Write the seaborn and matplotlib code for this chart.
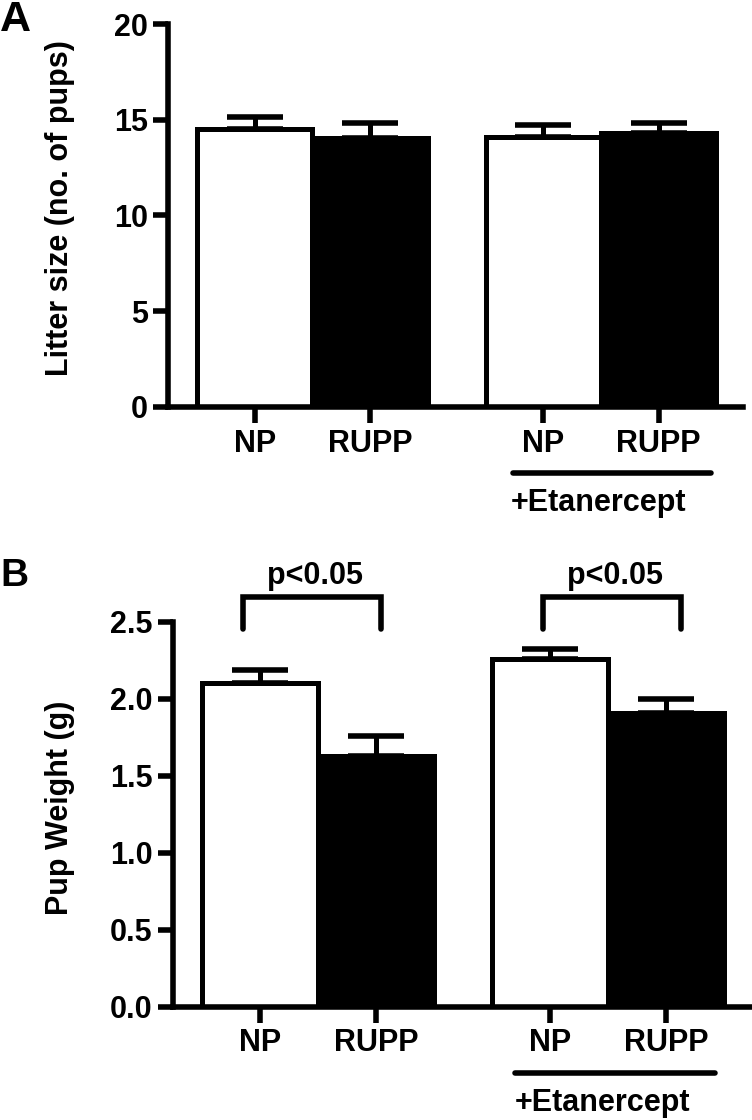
import matplotlib
matplotlib.use("Agg")
from matplotlib import pyplot as plt
import seaborn as sns
import pandas as pd
import numpy as np

# data
groups = ["NP", "RUPP", "NP", "RUPP"]
treatment = ["none", "none", "Etanercept", "Etanercept"]
litter_size = [14.5, 14.05, 14.12, 14.3]
litter_sem = [0.65, 0.8, 0.6, 0.55]
pup_weight = [2.10, 1.63, 2.26, 1.91]
pup_weight_sem = [0.085, 0.125, 0.065, 0.09]

# layout
xpos = [0, 1, 2.5, 3.5]

sns.set_style("ticks", {"axes.edgecolor": "black", "xtick.color": "black",
                        "ytick.color": "black", "text.color": "black",
                        "axes.labelcolor": "black"})
plt.rcParams["font.family"] = ["Liberation Sans", "DejaVu Sans"]
plt.rcParams["font.weight"] = "bold"
plt.rcParams["axes.labelweight"] = "bold"

fig = plt.figure(figsize=(7.52, 11.2), dpi=100)
axA = fig.add_axes([168 / 752, 1 - 407 / 1120, 575 / 752, 383 / 1120])
axB = fig.add_axes([173 / 752, 1 - 1006.7 / 1120, 578 / 752, 385 / 1120])

LW = 4.0
FS = 22


def panel(ax, vals, sems, ylim, yticks, fmt):
    df = pd.DataFrame({"x": xpos, "y": vals, "grp": groups})
    sns.barplot(data=df, x="x", y="y", hue="grp", native_scale=True,
                palette={"NP": "white", "RUPP": "black"}, dodge=False,
                width=1.0, edgecolor="black", linewidth=3.6, legend=False,
                ax=ax, zorder=2)
    ax.errorbar(xpos, vals, yerr=[np.zeros(len(vals)), sems], fmt="none",
                ecolor="black", elinewidth=3.6, capsize=20, capthick=LW, zorder=3)
    ax.set_xlim(-0.75, 4.23)
    ax.set_ylim(*ylim)
    ax.set_yticks(yticks)
    ax.set_yticklabels([fmt.format(t) for t in yticks])
    ax.set_xticks(xpos)
    ax.set_xticklabels(groups)
    ax.set_xlabel("")
    ax.set_ylabel("")
    for s in ["top", "right"]:
        ax.spines[s].set_visible(False)
    for s in ["left", "bottom"]:
        ax.spines[s].set_linewidth(LW)
        ax.spines[s].set_color("black")
    ax.tick_params(axis="y", width=LW, length=11, labelsize=FS, pad=3.5, color="black")
    ax.tick_params(axis="x", width=LW, length=11.5, labelsize=FS, pad=4, color="black")
    for lab in ax.get_xticklabels() + ax.get_yticklabels():
        lab.set_fontweight("bold")


panel(axA, litter_size, litter_sem, (0, 20), [0, 5, 10, 15, 20], "{:g}")
panel(axB, pup_weight, pup_weight_sem, (0, 2.5), [0, 0.5, 1.0, 1.5, 2.0, 2.5], "{:.1f}")

# y axis titles
fig.text(60 / 752, 1 - 208 / 1120, "Litter size (no. of pups)", rotation=90,
         ha="center", va="center", fontsize=FS, fontweight="bold")
fig.text(60 / 752, 1 - 808 / 1120, "Pup Weight (g)", rotation=90,
         ha="center", va="center", fontsize=FS, fontweight="bold")

# +Etanercept underline and label
for ax, x0, x1, xc in [(axA, 2.24, 3.95, 2.98), (axB, 2.20, 3.92, 2.95)]:
    ax.plot([x0, x1], [-0.172, -0.172], color="black", lw=LW, solid_capstyle="round",
            transform=ax.get_xaxis_transform(), clip_on=False)
    ax.text(xc, -0.212, "+Etanercept", transform=ax.get_xaxis_transform(),
            ha="center", va="top", fontsize=FS, fontweight="bold")

# significance brackets
for x0, x1, xt in [(-0.15, 1.04, 0.47), (2.44, 3.63, 3.06)]:
    axB.plot([x0, x0, x1, x1], [2.45, 2.66, 2.66, 2.45], color="black", lw=LW,
             solid_capstyle="round", solid_joinstyle="miter", clip_on=False)
    axB.text(xt, 2.745, "p<0.05", ha="center", va="baseline",
             fontsize=FS, fontweight="bold")

fig.text(0.0, 1.0, "A", ha="left", va="top", fontsize=31, fontweight="bold")
fig.text(0.0, 1 - 558 / 1120, "B", ha="left", va="top", fontsize=28, fontweight="bold")

fig.savefig("out.png", dpi=100)
